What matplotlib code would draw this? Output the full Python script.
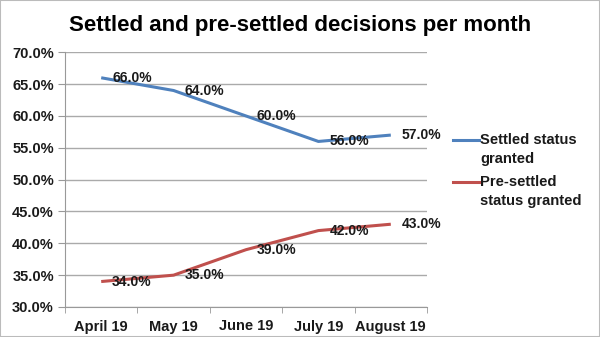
import matplotlib.pyplot as plt
from matplotlib.lines import Line2D
import numpy as np

plt.rcParams['font.family'] = ['Liberation Sans', 'DejaVu Sans']

months = ['April 19', 'May 19', 'June 19', 'July 19', 'August 19']
settled = [66.0, 64.0, 60.0, 56.0, 57.0]
pre_settled = [34.0, 35.0, 39.0, 42.0, 43.0]
series_names = ['Settled status\ngranted', 'Pre-settled\nstatus granted']
colors = ['#4F81BD', '#C0504D']

W, H = 600, 337
fig = plt.figure(figsize=(W / 100, H / 100), dpi=100)
fig.patches.append(plt.Rectangle((0, 0), 1, 1, transform=fig.transFigure,
                                 fill=False, edgecolor='#bbbbbb', linewidth=1.5))
ax = fig.add_axes([65 / W, 1 - 307 / H, (427 - 65) / W, (307 - 52.3) / H])

x = np.arange(len(months))
for vals, c in zip([settled, pre_settled], colors):
    ax.plot(x, vals, color=c, linewidth=2.2, solid_capstyle='butt')
    for xi, v in zip(x, vals):
        ax.text(xi + 0.15, v, f'{v:.1f}%', fontsize=10, fontweight='bold',
                va='center', ha='left', color='#1a1a1a')

ax.set_xlim(-0.5, len(months) - 0.5)
ax.set_ylim(30, 70)
yt = np.arange(30, 71, 5)
ax.set_yticks(yt)
ax.set_yticklabels([f'{t:.1f}%' for t in yt])
ax.set_xticks(x)
ax.set_xticklabels(months)
ax.set_xticks(np.arange(-0.5, len(months), 1), minor=True)
ax.tick_params(axis='x', which='major', length=0, pad=9)
ax.tick_params(axis='x', which='minor', length=4, color='#999999')
ax.tick_params(axis='y', length=5, color='#999999', pad=3)
for lab in ax.get_xticklabels() + ax.get_yticklabels():
    lab.set_fontweight('bold')
    lab.set_fontsize(10.5)
    lab.set_color('#1a1a1a')

ax.yaxis.grid(True, color='#aaaaaa', linewidth=1)
ax.set_axisbelow(True)
for s in ['top', 'right']:
    ax.spines[s].set_visible(False)
for s in ['left', 'bottom']:
    ax.spines[s].set_color('#999999')

fig.text(0.5, 1 - 25 / H, 'Settled and pre-settled decisions per month',
         fontsize=16, fontweight='bold', ha='center', va='center')

# legend: handle aligned with the first line of each label
for name, c, ytop in zip(series_names, colors, [140, 182]):
    fig.add_artist(Line2D([453 / W, 479 / W], [1 - ytop / H] * 2,
                          color=c, linewidth=2.2, transform=fig.transFigure))
    fig.text(480 / W, 1 - (ytop - 7) / H, name, fontsize=10.6, fontweight='bold',
             ha='left', va='top', linespacing=1.45, color='#1a1a1a')

fig.savefig('out.png', dpi=100)
